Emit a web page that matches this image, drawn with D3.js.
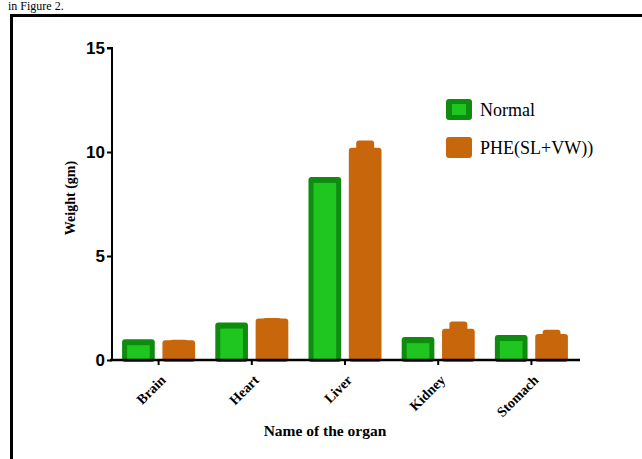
<!DOCTYPE html>
<html><head><meta charset="utf-8">
<script src="https://cdn.jsdelivr.net/npm/d3@7"></script>
<style>body{margin:0;background:#fff;} svg{display:block;}</style>
</head><body>
<script>
const categories = ["Brain", "Heart", "Liver", "Kidney", "Stomach"];
const seriesNames = ["Normal", "PHE(SL+VW))"];
const normalValues = [1.0, 1.8, 8.8, 1.1, 1.2];
const pheValues = [0.95, 2.0, 10.2, 1.5, 1.25];
const normalErr = [0, 0, 0, 0, 0];
const pheErr = [0.02, 0.02, 0.35, 0.35, 0.2];
const yTicks = [0, 5, 10, 15];

const W = 642, H = 459;
const svg = d3.select("body").append("svg").attr("width", W).attr("height", H);

// caption fragment and frame
svg.append("text").attr("x", 8).attr("y", 10).attr("font-family", "Liberation Serif, Times New Roman, serif")
  .attr("font-size", 12).attr("fill", "#000").text("in Figure 2.");
svg.append("path").attr("d", `M11.5,${H+5} V15.5 H${W+5}`).attr("fill", "none").attr("stroke", "#000").attr("stroke-width", 3);

const x0 = d3.scaleBand().domain(categories).range([112, 578]);
const x1 = d3.scaleBand().domain(seriesNames).range([0, x0.bandwidth()]).paddingInner(0.19).paddingOuter(0.25);
const y = d3.scaleLinear().domain([0, 15]).range([360, 48]);

const colors = {dark: "#0f8c0f", light: "#1fc61f", orange: "#c8660b"};

const data = categories.map((c, i) => ({cat: c, vals: [
  {s: seriesNames[0], v: normalValues[i], e: normalErr[i]},
  {s: seriesNames[1], v: pheValues[i], e: pheErr[i]}
]}));

const g = svg.append("g");
const groups = g.selectAll("g.cat").data(data).join("g").attr("transform", d => `translate(${x0(d.cat)},0)`);

groups.each(function(d) {
  const gg = d3.select(this);
  d.vals.forEach((p, k) => {
    const bx = x1(p.s), bw = x1.bandwidth();
    const top = y(p.v), base = y(0);
    const color = k === 0 ? colors.dark : colors.orange;
    if (p.e > 0) {
      const cw = bw * 0.55;
      gg.append("rect").attr("x", bx + (bw - cw) / 2).attr("y", y(p.v + p.e))
        .attr("width", cw).attr("height", y(p.v) - y(p.v + p.e) + 4).attr("rx", 3).attr("fill", color);
    }
    gg.append("rect").attr("x", bx).attr("y", top).attr("width", bw).attr("height", base - top + 2)
      .attr("rx", 3).attr("fill", color);
    if (k === 0) {
      const inset = 5;
      gg.append("rect").attr("x", bx + inset).attr("y", top + 6).attr("width", bw - 2 * inset)
        .attr("height", Math.max(0, base - top - 6)).attr("fill", colors.light);
    }
  });
});

// y axis
const yAxis = d3.axisLeft(y).tickValues(yTicks).tickSize(5).tickPadding(2).tickFormat(d3.format("d"));
const ya = svg.append("g").attr("transform", "translate(112,0)").call(yAxis);
ya.select(".domain").attr("stroke-width", 2).attr("d", `M-5,${y(15)}H0V${y(0)+1}`);
ya.selectAll(".tick line").attr("stroke-width", 2);
ya.selectAll(".tick text").attr("font-family", "Liberation Sans, Arial, sans-serif").attr("font-weight", "bold")
  .attr("font-size", 17).attr("fill", "#000").attr("dy", "0.34em");

// x axis
const xAxis = d3.axisBottom(x0).tickSize(5).tickSizeOuter(0).tickPadding(4);
const xa = svg.append("g").attr("transform", `translate(0,${y(0)})`).call(xAxis);
xa.select(".domain").attr("stroke-width", 2.5).attr("d", "M110,0H580");
xa.selectAll(".tick line").attr("stroke-width", 2);
xa.selectAll(".tick text").attr("font-family", "Liberation Serif, Times New Roman, serif").attr("font-weight", "bold")
  .attr("font-size", 14).attr("fill", "#000").attr("text-anchor", "end")
  .attr("dy", "0.3em").attr("transform", "translate(5,18) rotate(-45)").attr("y", 0).attr("x", 0);

// axis titles
svg.append("text").attr("transform", "translate(75,198) rotate(-90)").attr("text-anchor", "middle")
  .attr("font-family", "Liberation Serif, Times New Roman, serif").attr("font-weight", "bold").attr("font-size", 14)
  .text("Weight (gm)");
svg.append("text").attr("x", 325).attr("y", 436).attr("text-anchor", "middle")
  .attr("font-family", "Liberation Serif, Times New Roman, serif").attr("font-weight", "bold").attr("font-size", 15.5)
  .text("Name of the organ");

// legend
const leg = svg.append("g").attr("transform", "translate(446,99)");
seriesNames.forEach((s, i) => {
  const ly = i * 38;
  if (i === 0) {
    leg.append("rect").attr("x", 0).attr("y", ly).attr("width", 26).attr("height", 21).attr("rx", 3).attr("fill", colors.dark);
    leg.append("rect").attr("x", 6).attr("y", ly + 5).attr("width", 14).attr("height", 11).attr("fill", colors.light);
  } else {
    leg.append("rect").attr("x", 0).attr("y", ly).attr("width", 26).attr("height", 21).attr("rx", 3).attr("fill", colors.orange);
  }
  leg.append("text").attr("x", 34).attr("y", ly + 17).attr("font-family", "Liberation Serif, Times New Roman, serif")
    .attr("font-size", 18).attr("fill", "#000").text(s);
});
</script>
</body></html>
